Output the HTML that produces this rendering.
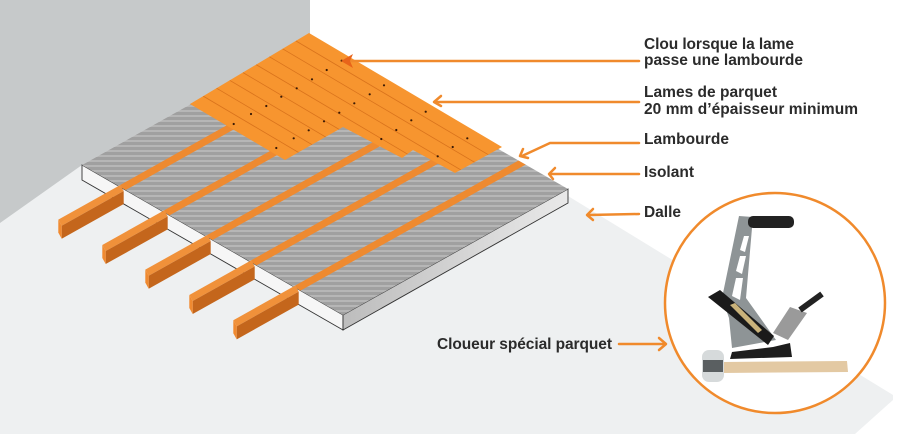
<!DOCTYPE html>
<html><head><meta charset="utf-8"><style>
html,body{margin:0;padding:0;background:#fff;}
svg{display:block;}
text{font-family:"Liberation Sans",sans-serif;font-weight:bold;fill:#2b2b2b;font-size:15.5px;}
</style></head><body>
<svg width="900" height="434" viewBox="0 0 900 434" xmlns="http://www.w3.org/2000/svg">
<defs>
<pattern id="st" width="8" height="5" patternUnits="userSpaceOnUse">
<rect width="8" height="5" fill="#a0a0a0"/><rect y="0" width="8" height="2" fill="#b6b6b6"/>
</pattern>
<linearGradient id="rg" x1="0" y1="0" x2="1" y2="0"><stop offset="0" stop-color="#bdbdbd"/><stop offset="1" stop-color="#e9e9e9"/></linearGradient>
<clipPath id="slab"><polygon points="82,165 307,39 568,189 343,315"/></clipPath>
<clipPath id="par"><polygon points="309,33 502,147 455,173 413,150 402,158 343,127 285,160 190,104"/></clipPath>
</defs>
<rect x="0" y="0" width="310" height="260" fill="#c6c9ca"/>
<polygon points="0,223 82,165 307,39 310,38 893,395 893,400 855,434 0,434" fill="#eef0f1"/>
<polygon points="82,165 343,315 343,330 82,180" fill="#f6f6f6" stroke="#333" stroke-width="0.9"/>
<polygon points="343,315 568,189 568,203 343,330" fill="url(#rg)" stroke="#333" stroke-width="0.9"/>
<polygon points="82,165 307,39 568,189 343,315" fill="url(#st)"/>
<g clip-path="url(#slab)" stroke="#ee8a30" stroke-width="7">
<line x1="122" y1="188" x2="472" y2="-8"/>
<line x1="166" y1="213.3" x2="516" y2="17.3"/>
<line x1="209" y1="238" x2="559" y2="42"/>
<line x1="253" y1="263.3" x2="603" y2="67.3"/>
<line x1="297" y1="288.6" x2="647" y2="92.6"/>
</g>
<g>
<polygon points="58.3,219.65 61.7,225.75 123.7,191.05 120.3,184.95" fill="#f0913a"/>
<polygon points="61.7,225.75 123.7,191.05 123.7,204.05 61.7,238.75" fill="#c4661c"/>
<polygon points="58.3,219.65 61.7,225.75 61.7,238.75 58.3,232.65" fill="#f08a30"/>
<polygon points="102.3,244.95 105.7,251.05 167.7,216.35 164.3,210.25" fill="#f0913a"/>
<polygon points="105.7,251.05 167.7,216.35 167.7,229.35 105.7,264.05" fill="#c4661c"/>
<polygon points="102.3,244.95 105.7,251.05 105.7,264.05 102.3,257.95" fill="#f08a30"/>
<polygon points="145.3,269.65 148.7,275.75 210.7,241.05 207.3,234.95" fill="#f0913a"/>
<polygon points="148.7,275.75 210.7,241.05 210.7,254.05 148.7,288.75" fill="#c4661c"/>
<polygon points="145.3,269.65 148.7,275.75 148.7,288.75 145.3,282.65" fill="#f08a30"/>
<polygon points="189.3,294.95 192.7,301.05 254.7,266.35 251.3,260.25" fill="#f0913a"/>
<polygon points="192.7,301.05 254.7,266.35 254.7,279.35 192.7,314.05" fill="#c4661c"/>
<polygon points="189.3,294.95 192.7,301.05 192.7,314.05 189.3,307.95" fill="#f08a30"/>
<polygon points="233.3,320.25 236.7,326.35 298.7,291.65 295.3,285.55" fill="#f0913a"/>
<polygon points="236.7,326.35 298.7,291.65 298.7,304.65 236.7,339.35" fill="#c4661c"/>
<polygon points="233.3,320.25 236.7,326.35 236.7,339.35 233.3,333.25" fill="#f08a30"/>
</g>
<polygon points="309,33 502,147 455,173 413,150 402,158 343,127 285,160 190,104" fill="#f7952f"/>
<g clip-path="url(#par)" stroke="#d9731c" stroke-width="0.8">
<line x1="295.8" y1="40.9" x2="635.8" y2="241.9"/>
<line x1="282.6" y1="48.8" x2="622.6" y2="249.8"/>
<line x1="269.3" y1="56.7" x2="609.3" y2="257.7"/>
<line x1="256.1" y1="64.6" x2="596.1" y2="265.6"/>
<line x1="242.9" y1="72.5" x2="582.9" y2="273.5"/>
<line x1="229.7" y1="80.3" x2="569.7" y2="281.3"/>
<line x1="216.5" y1="88.2" x2="556.5" y2="289.2"/>
<line x1="203.2" y1="96.1" x2="543.2" y2="297.1"/>
</g>
<g fill="#3a1a05">
<circle cx="341.7" cy="60.7" r="1.1"/><circle cx="326.7" cy="70" r="1.1"/><circle cx="312" cy="79.3" r="1.1"/><circle cx="296.7" cy="88.3" r="1.1"/><circle cx="281.3" cy="96.7" r="1.1"/><circle cx="266.3" cy="106" r="1.1"/><circle cx="251" cy="114" r="1.1"/><circle cx="233.7" cy="124" r="1.1"/>
<circle cx="384" cy="85.3" r="1.1"/><circle cx="369.7" cy="94.3" r="1.1"/><circle cx="354.3" cy="103.3" r="1.1"/><circle cx="339.3" cy="112.7" r="1.1"/><circle cx="324" cy="121.3" r="1.1"/><circle cx="308.7" cy="130.3" r="1.1"/><circle cx="293.7" cy="138.3" r="1.1"/><circle cx="276.3" cy="148" r="1.1"/>
<circle cx="425.7" cy="111.7" r="1.1"/><circle cx="411.3" cy="120.3" r="1.1"/><circle cx="396.3" cy="130" r="1.1"/><circle cx="381.3" cy="139" r="1.1"/>
<circle cx="467.3" cy="138.3" r="1.1"/><circle cx="452.7" cy="147" r="1.1"/><circle cx="437.7" cy="156.3" r="1.1"/>
</g>
<g stroke="#f08a2c" stroke-width="2.5" fill="none" stroke-linecap="round" stroke-linejoin="round">
<line x1="639" y1="61" x2="350" y2="61"/>
<line x1="639" y1="102" x2="436" y2="102"/>
<polyline points="441,96 434,102 441,106"/>
<polyline points="639,143 550,143 522,156"/>
<polyline points="523,149 520,156 528,158"/>
<line x1="639" y1="174" x2="550" y2="174"/>
<polyline points="555,168 549,174 553,179"/>
<line x1="639" y1="214" x2="588" y2="215"/>
<polyline points="593,209 587,215 593,220"/>
<line x1="619" y1="344" x2="665" y2="344"/>
<polyline points="659,338 666,344 659,350"/>
</g>
<polygon points="341,61 353,54 350,61 353,68" fill="#e8641a"/>
<text x="644" y="49" textLength="150">Clou lorsque la lame</text>
<text x="644" y="65" textLength="159">passe une lambourde</text>
<text x="644" y="97" textLength="133">Lames de parquet</text>
<text x="644" y="114" textLength="214">20 mm d’épaisseur minimum</text>
<text x="644" y="144" textLength="85">Lambourde</text>
<text x="644" y="177" textLength="50">Isolant</text>
<text x="644" y="217" textLength="37">Dalle</text>
<text x="437" y="349" textLength="175">Cloueur spécial parquet</text>
<circle cx="775" cy="303" r="110" fill="#fff" stroke="#f08a2c" stroke-width="2.5"/>
<polygon points="739,216 753,217 752,228 746,298 776,340 732,348 729,318 722,298" fill="#8e9496"/>
<polygon points="744,236 749,236 745,252 740,250" fill="#fff"/>
<polygon points="740,256 746,256 742,274 736,271" fill="#fff"/>
<polygon points="736,278 743,278 740,300 732,296" fill="#fff"/>
<rect x="748" y="216" width="46" height="12" rx="5" fill="#222"/>
<polygon points="708,297 720,290 774,336 768,345" fill="#1a1a1a"/>
<polygon points="730,305 735,303 762,330 758,333" fill="#c9b27a"/>
<polygon points="773,333 790,307 807,313 788,340" fill="#9a9a9a"/>
<line x1="800" y1="310" x2="822" y2="294" stroke="#222" stroke-width="6"/>
<polygon points="732,352 773,347 790,343 792,357 730,359" fill="#1d1d1d"/>
<polygon points="722,362 847,361 848,372 722,373" fill="#e3c9a3"/>
<rect x="702" y="350" width="22" height="32" rx="7" fill="#d6dadb"/>
<rect x="703" y="360" width="20" height="12" fill="#5a5f61"/>
</svg>
</body></html>
